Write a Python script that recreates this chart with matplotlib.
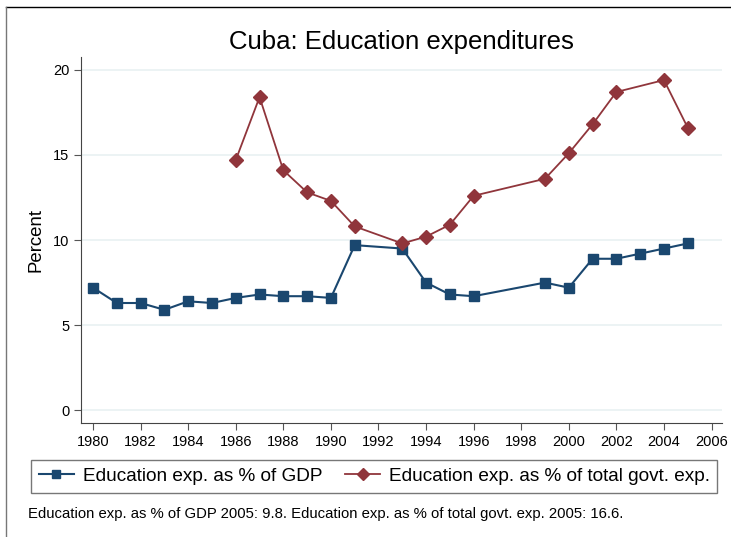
import matplotlib.pyplot as plt
from matplotlib.lines import Line2D

plt.rcParams['font.family'] = ['Liberation Sans', 'DejaVu Sans']

# Education exp. as % of GDP
gdpYears = [1980, 1981, 1982, 1983, 1984, 1985, 1986, 1987, 1988, 1989, 1990,
            1991, 1993, 1994, 1995, 1996, 1999, 2000, 2001, 2002, 2003, 2004, 2005]
gdpVals = [7.2, 6.3, 6.3, 5.9, 6.4, 6.3, 6.6, 6.8, 6.7, 6.7, 6.6,
           9.7, 9.5, 7.5, 6.8, 6.7, 7.5, 7.2, 8.9, 8.9, 9.2, 9.5, 9.8]

# Education exp. as % of total govt. exp.
govYears = [1986, 1987, 1988, 1989, 1990, 1991, 1993, 1994, 1995, 1996,
            1999, 2000, 2001, 2002, 2004, 2005]
govVals = [14.7, 18.4, 14.1, 12.8, 12.3, 10.8, 9.8, 10.2, 10.9, 12.6,
           13.6, 15.1, 16.8, 18.7, 19.4, 16.6]

xTicks = list(range(1980, 2007, 2))
yTicks = [0, 5, 10, 15, 20]

blue = '#1a476f'
red = '#90353b'

fig = plt.figure(figsize=(7.31, 5.37), dpi=100)
ax = fig.add_axes([0.111, 0.212, 0.877, 0.682])

ax.plot(gdpYears, gdpVals, color=blue, marker='s', markersize=7, lw=1.5,
        label='Education exp. as % of GDP', zorder=3)
ax.plot(govYears, govVals, color=red, marker='D', markersize=7, lw=1.3,
        label='Education exp. as % of total govt. exp.', zorder=3)

ax.set_xlim(1979.5, 2006.45)
ax.set_ylim(-0.76, 20.76)
ax.set_xticks(xTicks)
ax.set_yticks(yTicks)
ax.tick_params(labelsize=10.5, length=5, color='#555555')
ax.grid(axis='y', color='#eaf2f3', lw=1.3)
ax.set_axisbelow(True)
for s in ['top', 'right']:
    ax.spines[s].set_visible(False)
ax.spines['left'].set_color('#444444')
ax.spines['bottom'].set_color('#444444')
ax.set_ylabel('Percent', fontsize=13.4, labelpad=6)
ax.set_title('Cuba: Education expenditures', fontsize=18.5, pad=6)

leg = fig.legend(loc='center', bbox_to_anchor=(0.512, 0.113), ncol=2, fontsize=13.7,
                 frameon=True, fancybox=False, edgecolor='#555555',
                 handlelength=1.85, handletextpad=0.45, columnspacing=1.2,
                 borderpad=0.4, markerscale=0.85)
leg.get_frame().set_linewidth(1.0)

fig.text(0.038, 0.036, 'Education exp. as % of GDP 2005: 9.8. Education exp. as % of total govt. exp. 2005: 16.6.',
         fontsize=10.7)

# outer frame (top and left only visible)
fig.add_artist(Line2D([0.008, 1.0], [0.987, 0.987], color='black', lw=1))
fig.add_artist(Line2D([0.008, 0.008], [0.0, 0.987], color='#777777', lw=1))

fig.savefig('out.png', dpi=100)
